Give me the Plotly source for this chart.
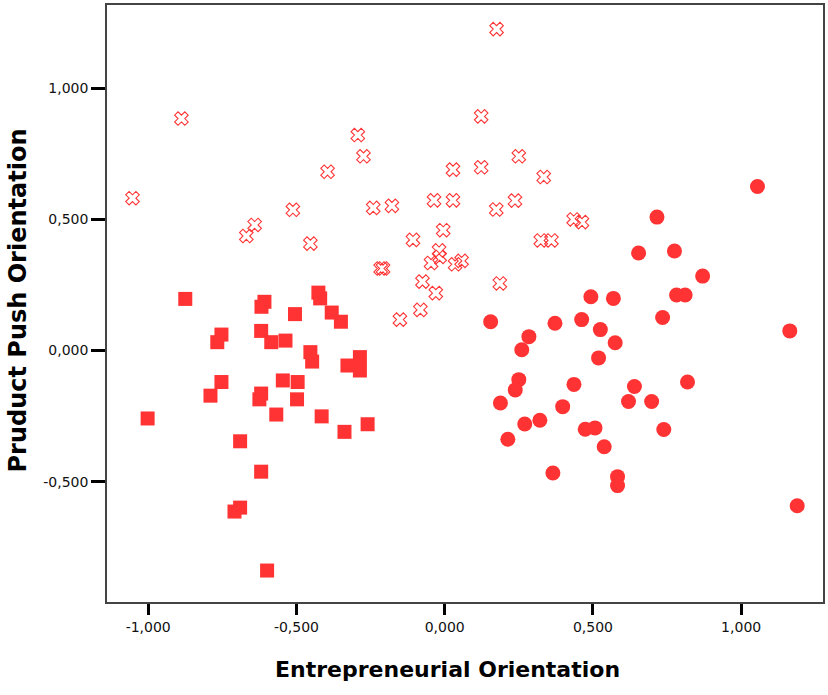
import plotly.graph_objects as go

# Group 1: squares
sq_x = [-0.875, -0.608, -0.618, -0.505, -0.426, -0.420, -0.381, -0.350, -0.753, -0.767,
        -0.619, -0.585, -0.537, -0.453, -0.447, -0.328, -0.286, -0.286, -0.753, -0.790,
        -0.546, -0.496, -0.619, -0.625, -0.498, -0.568, -0.415, -1.002, -0.338, -0.260,
        -0.690, -0.619, -0.690, -0.709, -0.599]
sq_y = [0.197, 0.186, 0.167, 0.139, 0.221, 0.199, 0.145, 0.110, 0.061, 0.032,
        0.075, 0.032, 0.038, -0.006, -0.042, -0.057, -0.025, -0.076, -0.120, -0.172,
        -0.114, -0.120, -0.164, -0.186, -0.186, -0.244, -0.251, -0.259, -0.310, -0.281,
        -0.346, -0.462, -0.599, -0.614, -0.839]

# Group 2: crosses
cr_x = [-1.053, -0.888, -0.669, -0.641, -0.512, -0.293, -0.274, -0.395, -0.453, -0.241,
        -0.178, -0.216, -0.208, -0.151, -0.082, -0.075, -0.030, -0.107, -0.005, -0.019,
        -0.017, -0.046, 0.057, 0.035, -0.036, 0.028, 0.028, 0.123, 0.123, 0.175,
        0.250, 0.334, 0.174, 0.237, 0.435, 0.463, 0.324, 0.360, 0.186]
cr_y = [0.581, 0.885, 0.437, 0.479, 0.537, 0.822, 0.741, 0.682, 0.408, 0.544,
        0.552, 0.313, 0.313, 0.118, 0.155, 0.263, 0.219, 0.422, 0.459, 0.382,
        0.357, 0.334, 0.342, 0.329, 0.573, 0.573, 0.690, 0.699, 0.893, 1.226,
        0.741, 0.662, 0.538, 0.572, 0.500, 0.490, 0.420, 0.420, 0.256]

# Group 3: circles
ci_x = [1.055, 0.716, 0.654, 0.775, 0.870, 0.493, 0.569, 0.782, 0.811, 0.735,
        0.462, 0.525, 0.575, 0.519, 0.155, 0.372, 0.284, 0.260, 0.250, 0.238,
        0.188, 0.436, 0.398, 0.270, 0.321, 0.213, 0.474, 0.507, 0.538, 0.365,
        0.583, 0.583, 0.640, 0.620, 0.698, 0.739, 0.819, 1.164, 1.189]
ci_y = [0.626, 0.509, 0.372, 0.380, 0.284, 0.205, 0.199, 0.212, 0.212, 0.126,
        0.118, 0.080, 0.030, -0.028, 0.110, 0.104, 0.053, 0.003, -0.111, -0.150,
        -0.200, -0.129, -0.214, -0.280, -0.266, -0.338, -0.300, -0.295, -0.367, -0.467,
        -0.481, -0.515, -0.137, -0.194, -0.194, -0.301, -0.120, 0.075, -0.592]

tick_vals_x = [-1.0, -0.5, 0.0, 0.5, 1.0]
tick_text_x = ["-1,000", "-0,500", "0,000", "0,500", "1,000"]
tick_vals_y = [-0.5, 0.0, 0.5, 1.0]
tick_text_y = ["-0,500", "0,000", "0,500", "1,000"]

RED = "#ff3333"
TICK_FONT = dict(family="DejaVu Sans, Verdana, sans-serif", size=14, color="#111111")
XTITLE_FONT = dict(family="DejaVu Sans, Verdana, sans-serif", size=22, color="black")
YTITLE_FONT = dict(family="DejaVu Sans, Verdana, sans-serif", size=24, color="black")

fig = go.Figure()
fig.add_trace(go.Scatter(x=sq_x, y=sq_y, mode="markers",
                         marker=dict(symbol="square", size=14, color=RED, line=dict(width=0))))
fig.add_trace(go.Scatter(x=cr_x, y=cr_y, mode="markers",
                         marker=dict(symbol="x-open", size=12, color=RED,
                                     line=dict(width=1.1, color=RED))))
fig.add_trace(go.Scatter(x=ci_x, y=ci_y, mode="markers",
                         marker=dict(symbol="circle", size=15, color=RED, line=dict(width=0))))

axis_common = dict(showgrid=False, zeroline=False, showline=True, mirror=True,
                   linecolor="#444444", linewidth=1.5, ticks="outside",
                   tickcolor="black", tickwidth=3, tickfont=TICK_FONT)

fig.update_layout(
    width=828, height=695,
    margin=dict(l=107, r=3, t=3, b=93),
    paper_bgcolor="white", plot_bgcolor="white",
    showlegend=False,
    xaxis=dict(range=[-1.139, 1.276], tickvals=tick_vals_x, ticktext=tick_text_x,
               ticklen=11, **axis_common),
    yaxis=dict(range=[-0.959, 1.318], tickvals=tick_vals_y, ticktext=tick_text_y,
               ticklen=14, **axis_common),
    annotations=[
        dict(text="<b>Entrepreneurial Orientation</b>", xref="paper", yref="paper",
             x=0.476, y=0, yshift=-82, showarrow=False, xanchor="center", yanchor="bottom",
             font=XTITLE_FONT),
        dict(text="<b>Pruduct Push Orientation</b>", xref="paper", yref="paper",
             x=0, xshift=-89, y=0.505, textangle=-90, showarrow=False,
             xanchor="center", yanchor="middle", font=YTITLE_FONT),
    ],
)

fig.write_html("out.html", config={"displayModeBar": False},
               post_script="document.body.style.margin='0';document.body.style.padding='0';")
